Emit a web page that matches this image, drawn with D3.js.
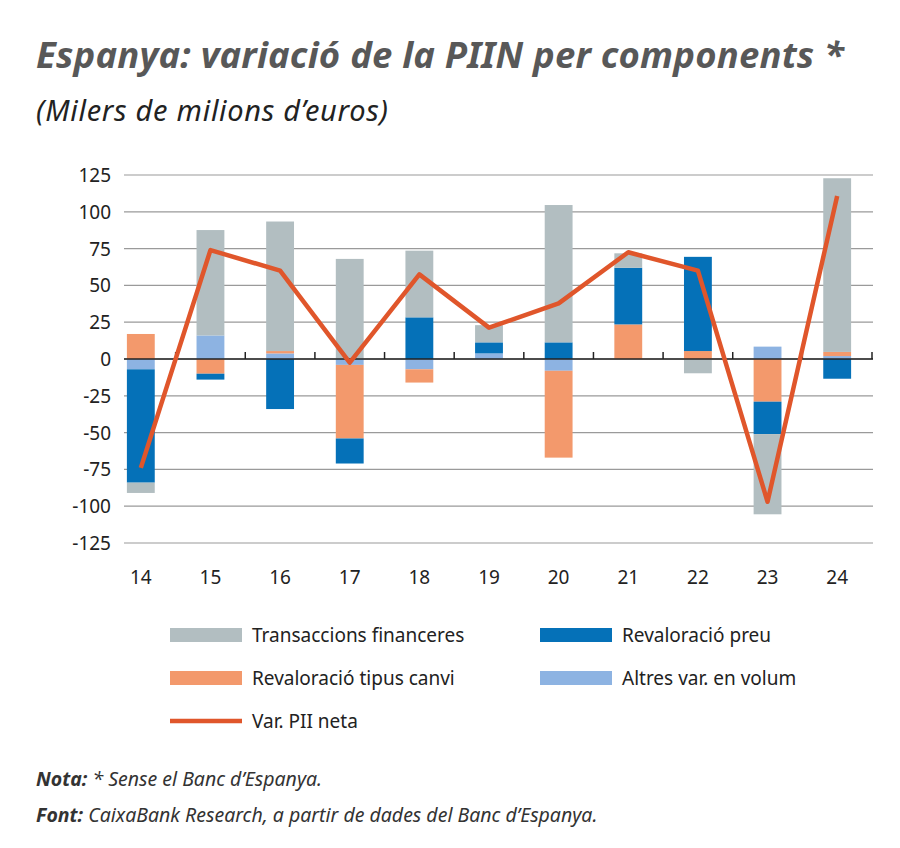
<!DOCTYPE html>
<html>
<head>
<meta charset="utf-8">
<script src="https://cdn.jsdelivr.net/npm/d3@7"></script>
<style>
body { margin: 0; background: #fff; }
text { font-family: "Noto Sans", sans-serif; }
</style>
</head>
<body>
<div id="chart"></div>
<script>
const years = ["14", "15", "16", "17", "18", "19", "20", "21", "22", "23", "24"];
const altres = [-7, 16, 3.8, -4, -7, 3.8, -8, 0, 0, 8.4, 2];
const tipus = [17, -10, 1.6, -50, -9, 0, -59, 23.5, 5.4, -29, 2.8];
const preu = [-77, -4, -34, -17, 28.3, 7.5, 11.3, 38.5, 64, -22, -13.4];
const trans = [-7, 71.6, 88, 68, 45.3, 11.7, 93.3, 9.8, -9.7, -54.5, 118];
const neta = [-74, 74, 60, -2.5, 57.5, 21.3, 37.8, 72.5, 60, -97, 110.7];
const yTicks = [125, 100, 75, 50, 25, 0, -25, -50, -75, -100, -125];

const keys = ["altres", "tipus", "preu", "trans"];
const colors = { trans: "#b2bec1", preu: "#0571b8", tipus: "#f3996c", altres: "#8db3e2" };
const labels = { trans: "Transaccions financeres", preu: "Revaloració preu", tipus: "Revaloració tipus canvi", altres: "Altres var. en volum" };

const rows = years.map((y, i) => ({ year: y, altres: altres[i], tipus: tipus[i], preu: preu[i], trans: trans[i] }));

const svg = d3.select("#chart").append("svg").attr("width", 900).attr("height", 848);

svg.append("text").attr("x", 36).attr("y", 68)
    .attr("font-size", 36.5).attr("font-weight", "bold").attr("font-style", "italic")
    .attr("fill", "#585858").attr("textLength", 808).text("Espanya: variació de la PIIN per components *");
svg.append("text").attr("x", 36).attr("y", 121)
    .attr("font-size", 29).attr("font-style", "italic")
    .attr("fill", "#222").attr("textLength", 352).text("(Milers de milions d’euros)");

const x = d3.scaleBand().domain(years).range([106, 872]).paddingInner(0.6).paddingOuter(0.3);
const y = d3.scaleLinear().domain([-125, 125]).range([543, 175]);

// gridlines
svg.append("g").selectAll("line").data(yTicks).join("line")
    .attr("x1", 124).attr("x2", 873)
    .attr("y1", d => y(d)).attr("y2", d => y(d))
    .attr("stroke", "#9a9a9a").attr("stroke-width", 1.2);

svg.append("g").selectAll("text").data(yTicks).join("text")
    .attr("x", 111).attr("y", d => y(d) + 7)
    .attr("text-anchor", "end").attr("font-size", 19).attr("fill", "#222")
    .text(d => d);

const series = d3.stack().keys(keys).offset(d3.stackOffsetDiverging)(rows);

svg.append("g").selectAll("g").data(series).join("g")
    .attr("fill", d => colors[d.key])
    .selectAll("rect").data(d => d).join("rect")
    .attr("x", d => x(d.data.year))
    .attr("width", x.bandwidth())
    .attr("y", d => y(Math.max(d[0], d[1])))
    .attr("height", d => Math.abs(y(d[0]) - y(d[1])));

// zero axis
svg.append("line").attr("x1", 124).attr("x2", 873).attr("y1", y(0)).attr("y2", y(0))
    .attr("stroke", "#222").attr("stroke-width", 1.5);
const step = x.step();
svg.append("g").selectAll("line").data(years.slice(1).concat(["end"])).join("line")
    .attr("x1", (d, i) => x(years[0]) + x.bandwidth() / 2 + step * (i + 0.5))
    .attr("x2", (d, i) => x(years[0]) + x.bandwidth() / 2 + step * (i + 0.5))
    .attr("y1", y(0) - 7).attr("y2", y(0))
    .attr("stroke", "#222").attr("stroke-width", 1.5);

svg.append("g").selectAll("text").data(years).join("text")
    .attr("x", d => x(d) + x.bandwidth() / 2).attr("y", 584)
    .attr("text-anchor", "middle").attr("font-size", 19).attr("fill", "#222")
    .text(d => d);

const line = d3.line().x((d, i) => x(years[i]) + x.bandwidth() / 2).y(d => y(d));
svg.append("path").datum(neta).attr("d", line)
    .attr("fill", "none").attr("stroke", "#e0562b").attr("stroke-width", 4.5)
    .attr("stroke-linejoin", "round");

// legend
const legendItems = [
    { key: "trans", x: 170, y: 635 }, { key: "preu", x: 540, y: 635 },
    { key: "tipus", x: 170, y: 678 }, { key: "altres", x: 540, y: 678 }
];
const lg = svg.append("g");
legendItems.forEach(it => {
    lg.append("rect").attr("x", it.x).attr("y", it.y - 7).attr("width", 72).attr("height", 14)
        .attr("fill", colors[it.key]);
    lg.append("text").attr("x", it.x + 82).attr("y", it.y + 7).attr("font-size", 19)
        .attr("fill", "#222").text(labels[it.key]);
});
lg.append("line").attr("x1", 170).attr("x2", 242).attr("y1", 721).attr("y2", 721)
    .attr("stroke", "#e0562b").attr("stroke-width", 4.5);
lg.append("text").attr("x", 252).attr("y", 728).attr("font-size", 19).attr("fill", "#222").text("Var. PII neta");

const n1 = svg.append("text").attr("x", 36).attr("y", 786).attr("font-size", 19.5).attr("fill", "#333").attr("font-style", "italic");
n1.append("tspan").attr("font-weight", "bold").text("Nota: ");
n1.append("tspan").text("* Sense el Banc d’Espanya.");
const n2 = svg.append("text").attr("x", 36).attr("y", 822).attr("font-size", 19.5).attr("fill", "#333").attr("font-style", "italic");
n2.append("tspan").attr("font-weight", "bold").text("Font: ");
n2.append("tspan").text("CaixaBank Research, a partir de dades del Banc d’Espanya.");
</script>
</body>
</html>
